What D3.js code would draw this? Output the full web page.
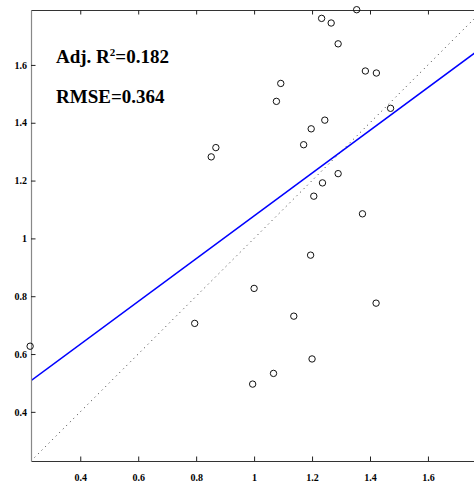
<!DOCTYPE html>
<html>
<head>
<meta charset="utf-8">
<script src="https://cdn.jsdelivr.net/npm/d3@7"></script>
<style>
  html, body { margin: 0; padding: 0; background: #fff; overflow: hidden; }
  svg { display: block; }
  text { font-family: "Liberation Serif", "Times New Roman", serif; font-weight: bold; }
</style>
</head>
<body>
<svg id="chart" width="474" height="482"></svg>
<script>
// Observed vs. predicted values
const observedX = [1.354, 1.233, 1.266, 1.290, 1.384, 1.422, 1.092, 1.077, 1.471,
  1.244, 1.197, 0.868, 1.171, 0.852, 1.290, 1.236, 1.206, 1.374, 1.195, 1.000,
  1.421, 1.137, 0.795, 1.200, 1.067, 0.995, 0.227];
const observedY = [1.791, 1.761, 1.745, 1.673, 1.579, 1.572, 1.536, 1.474, 1.450,
  1.409, 1.379, 1.314, 1.324, 1.282, 1.224, 1.192, 1.146, 1.085, 0.942, 0.827,
  0.776, 0.731, 0.706, 0.583, 0.533, 0.496, 0.627];

// Linear fit (slope, intercept) and 1:1 reference
const fitSlope = 0.740;
const fitIntercept = 0.338;
const axisDomain = [0.23, 1.79];
const tickValues = [0.4, 0.6, 0.8, 1.0, 1.2, 1.4, 1.6];
const tickLabels = ["0.4", "0.6", "0.8", "1", "1.2", "1.4", "1.6"];
const statLines = [
  { pre: "Adj. R", sup: "2", post: "=0.182" },
  { pre: "RMSE=0.364", sup: "", post: "" }
];

const svg = d3.select("#chart");
const plotLeft = 31, plotTop = 10, plotRight = 483, plotBottom = 461;

const x = d3.scaleLinear().domain(axisDomain).range([plotLeft, plotRight]);
const y = d3.scaleLinear().domain(axisDomain).range([plotBottom, plotTop]);

svg.append("defs").append("clipPath").attr("id", "plotClip")
  .append("rect").attr("x", plotLeft).attr("y", plotTop)
  .attr("width", plotRight - plotLeft).attr("height", plotBottom - plotTop);

const plot = svg.append("g").attr("clip-path", "url(#plotClip)");

// 1:1 line
plot.append("line")
  .attr("x1", x(axisDomain[0])).attr("y1", y(axisDomain[0]))
  .attr("x2", x(axisDomain[1])).attr("y2", y(axisDomain[1]))
  .attr("stroke", "#333").attr("stroke-width", 1)
  .attr("stroke-dasharray", "1,4");

// Regression line
plot.append("line")
  .attr("x1", x(axisDomain[0])).attr("y1", y(fitIntercept + fitSlope * axisDomain[0]))
  .attr("x2", x(axisDomain[1])).attr("y2", y(fitIntercept + fitSlope * axisDomain[1]))
  .attr("stroke", "#0000ff").attr("stroke-width", 1.5);

// Axes (box with inward ticks)
const fmt = (d) => tickLabels[tickValues.indexOf(d)];
const axisBottom = d3.axisBottom(x).tickValues(tickValues).tickFormat(fmt)
  .tickSizeInner(-4.5).tickSizeOuter(0).tickPadding(13);
const axisLeft = d3.axisLeft(y).tickValues(tickValues).tickFormat(fmt)
  .tickSizeInner(-4.5).tickSizeOuter(0).tickPadding(4);
const axisTop = d3.axisTop(x).tickValues(tickValues).tickFormat("")
  .tickSizeInner(-4.5).tickSizeOuter(0);

function styleAxis(g, col) {
  g.select(".domain").attr("stroke", col).attr("stroke-width", 1.2);
  g.selectAll(".tick line").attr("stroke", "#222").attr("stroke-width", 1);
  g.selectAll(".tick text").attr("fill", "#000")
    .style("font-size", "10px").style("font-family", "'Liberation Serif', serif")
    .style("font-weight", "bold");
}

svg.append("g").attr("transform", `translate(0,${plotBottom})`).call(axisBottom)
  .call(g => styleAxis(g, "#333"));
svg.append("g").attr("transform", `translate(${plotLeft},0)`).call(axisLeft)
  .call(g => styleAxis(g, "#888"));
svg.append("g").attr("transform", `translate(0,${plotTop})`).call(axisTop)
  .call(g => styleAxis(g, "#333"));

// Observations
svg.append("g").selectAll("circle")
  .data(observedX.map((v, i) => [v, observedY[i]]))
  .join("circle")
  .attr("cx", d => x(d[0])).attr("cy", d => y(d[1]))
  .attr("r", 3.2)
  .attr("fill", "none").attr("stroke", "#111").attr("stroke-width", 1);

// Fit statistics
const stats = svg.append("g");
statLines.forEach((s, i) => {
  const t = stats.append("text")
    .attr("x", 56).attr("y", 63 + i * 40)
    .style("font-size", "19px").attr("fill", "#000");
  t.append("tspan").text(s.pre);
  if (s.sup) {
    t.append("tspan").attr("dy", -7).style("font-size", "11px").text(s.sup);
    t.append("tspan").attr("dy", 7).text(s.post);
  }
});
</script>
</body>
</html>
